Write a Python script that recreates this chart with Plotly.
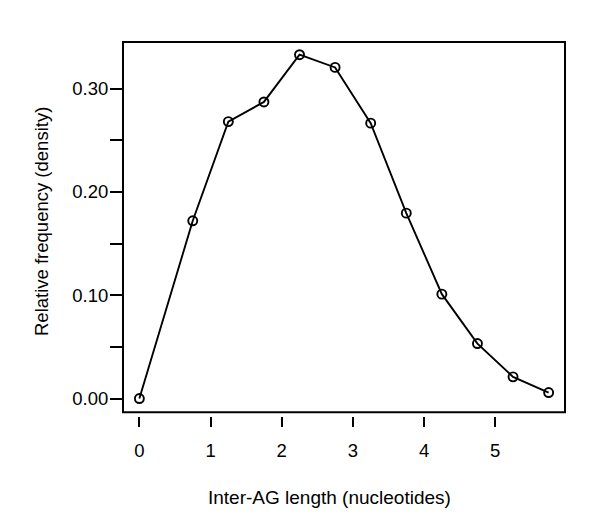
import plotly.graph_objects as go

x_len = [0, 0.75, 1.25, 1.75, 2.25, 2.75, 3.25, 3.75, 4.25, 4.75, 5.25, 5.75]
rel_freq = [0.0, 0.172, 0.268, 0.287, 0.3327, 0.3204, 0.2665, 0.1794, 0.101, 0.0532, 0.021, 0.0058]
x_ticks = [0, 1, 2, 3, 4, 5]
y_ticks = [0, 0.05, 0.10, 0.15, 0.20, 0.25, 0.30]
y_ticklabels = ["0.00", "", "0.10", "", "0.20", "", "0.30"]

FONT = "Liberation Sans, Arial, Helvetica, sans-serif"

fig = go.Figure()
fig.add_trace(go.Scatter(
    x=x_len, y=rel_freq, mode="lines+markers",
    line=dict(color="black", width=1.9),
    marker=dict(symbol="circle-open", size=9, color="black", line=dict(width=1.9)),
    showlegend=False,
))

fig.update_layout(
    width=600, height=525,
    margin=dict(l=115, r=43, t=34, b=117),
    paper_bgcolor="white", plot_bgcolor="white",
    font=dict(family=FONT, size=18.5, color="black"),
    xaxis=dict(
        range=[-0.23, 5.98], tickvals=x_ticks, ticktext=[str(v) for v in x_ticks],
        ticks="outside", ticklen=10, tickwidth=1.8, tickcolor="black",
        showline=False, showgrid=False, zeroline=False,
        anchor="free", position=0, ticklabelstandoff=8,
    ),
    yaxis=dict(
        range=[-0.0133, 0.345], domain=[0.0099, 1], tickvals=y_ticks, ticktext=y_ticklabels,
        ticks="outside", ticklen=12, tickwidth=1.8, tickcolor="black",
        showline=False, showgrid=False, zeroline=False, ticklabelstandoff=-2,
    ),
    shapes=[dict(type="rect", xref="x domain", yref="y domain", x0=0, x1=1, y0=0, y1=1,
                 line=dict(color="black", width=2))],
    annotations=[
        dict(text="Inter-AG length (nucleotides)", xref="paper", yref="paper",
             x=(321 - 115) / 442, y=-0.219, xanchor="center", yanchor="middle", showarrow=False,
             font=dict(size=19)),
        dict(text="Relative frequency (density)", xref="paper", yref="paper",
             x=-0.183, y=0.519, xanchor="center", yanchor="middle", showarrow=False,
             textangle=-90, font=dict(size=18.5)),
    ],
)

fig.write_html("out.html")
